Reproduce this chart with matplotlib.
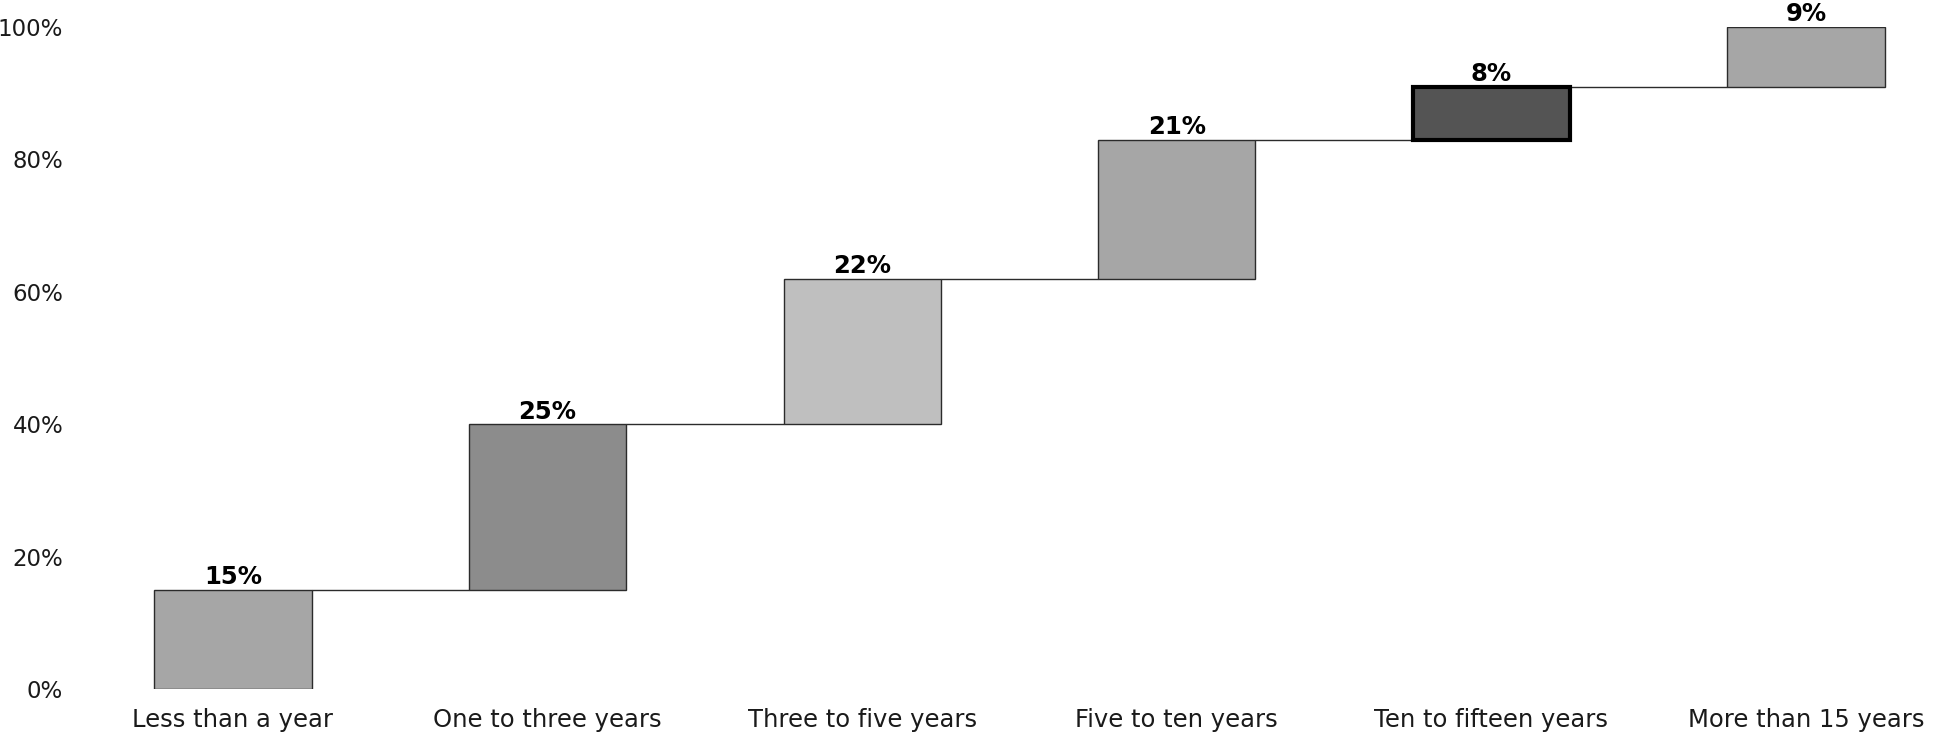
import matplotlib
matplotlib.use("Agg")
import matplotlib.pyplot as plt
import numpy as np

categories = ["Less than a year", "One to three years", "Three to five years",
              "Five to ten years", "Ten to fifteen years", "More than 15 years"]
shares = [15, 25, 22, 21, 8, 9]
bar_colors = ["#a6a6a6", "#8c8c8c", "#bfbfbf", "#a6a6a6", "#545454", "#a6a6a6"]
ytick_values = [0, 20, 40, 60, 80, 100]
ytick_labels = ["0%", "20%", "40%", "60%", "80%", "100%"]

plt.rcParams["font.family"] = ["DejaVu Sans"]

W, H = 1934, 736
fig = plt.figure(figsize=(W / 100, H / 100), dpi=100)
ax = fig.add_axes([75.7 / W, (H - 689) / H, (1916 - 75.7) / W, (689 - 27) / H])

x = np.arange(len(categories))
bottoms = np.concatenate([[0], np.cumsum(shares)[:-1]])
tops = bottoms + np.array(shares)
width = 0.5

for i, (b, s, c) in enumerate(zip(bottoms, shares, bar_colors)):
    highlight = i == 4
    ax.bar(x[i], s, width=width, bottom=b, color=c,
           edgecolor="black" if highlight else "#2b2b2b",
           linewidth=3.0 if highlight else 1.0, zorder=3)
    ax.annotate(f"{s}%", (x[i], b + s), xytext=(0, 0.5), textcoords="offset points",
                ha="center", va="bottom", fontsize=17.5, fontweight="bold",
                color="black", zorder=4, annotation_clip=False)

# connectors between consecutive steps
for i in range(len(categories) - 1):
    ax.plot([x[i] + width / 2, x[i + 1] - width / 2], [tops[i], tops[i]],
            color="#2b2b2b", linewidth=1.0, zorder=2, solid_capstyle="butt")

ax.set_xlim(-0.5, 5.35)
ax.set_ylim(0, 100)
ax.set_xticks(x)
ax.set_xticklabels(categories, fontsize=17.5, color="#1a1a1a")
ax.set_yticks(ytick_values)
ax.set_yticklabels(ytick_labels, fontsize=16.5, color="#1a1a1a")
ax.tick_params(axis="both", length=0)
ax.tick_params(axis="y", pad=9)
ax.tick_params(axis="x", pad=14)
for sp in ax.spines.values():
    sp.set_visible(False)

fig.savefig("out.png", dpi=100)
